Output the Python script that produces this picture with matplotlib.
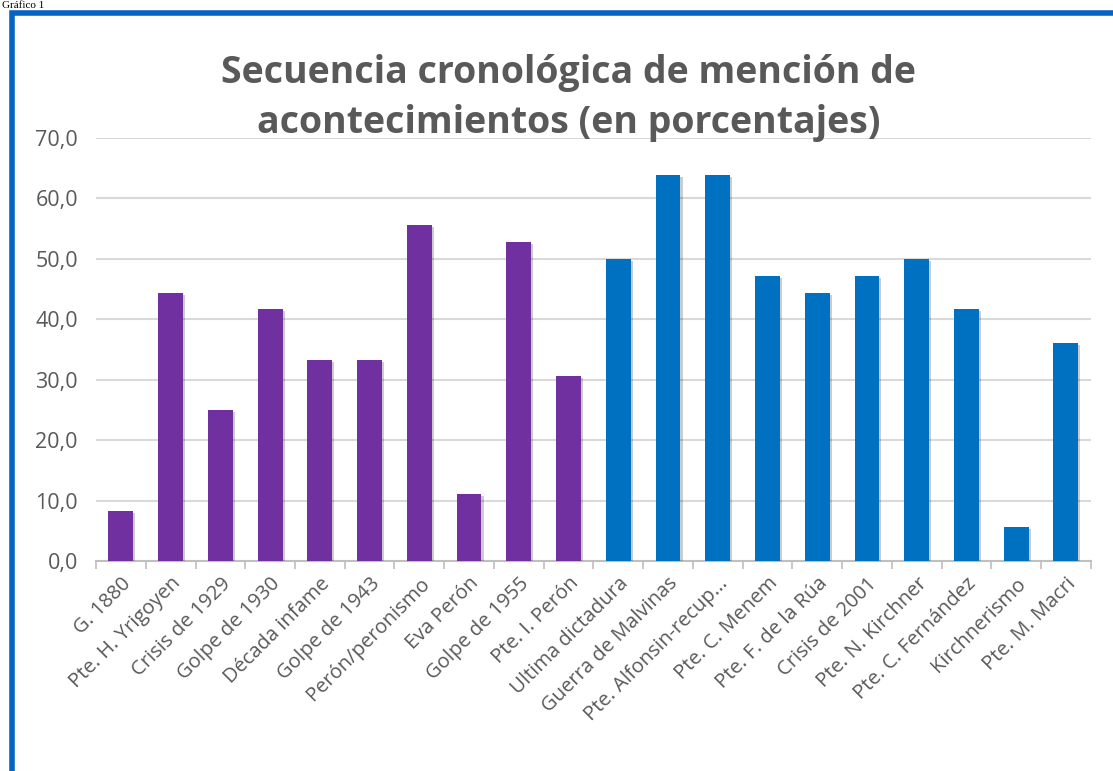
import matplotlib
matplotlib.use('Agg')
import matplotlib.pyplot as plt
import matplotlib.patheffects as pe
from matplotlib.patches import Rectangle
import numpy as np

# data
acontecimientos = ['G. 1880', 'Pte. H. Yrigoyen', 'Crisis de 1929', 'Golpe de 1930',
                   'Década infame', 'Golpe de 1943', 'Perón/peronismo', 'Eva Perón',
                   'Golpe de 1955', 'Pte. I. Perón', 'Ultima dictadura', 'Guerra de Malvinas',
                   'Pte. Alfonsin-recup...', 'Pte. C. Menem', 'Pte. F. de la Rúa',
                   'Crisis de 2001', 'Pte. N. Kirchner', 'Pte. C. Fernández',
                   'Kirchnerismo', 'Pte. M. Macri']
porcentajes = [8.3, 44.4, 25.0, 41.7, 33.3, 33.3, 55.6, 11.1, 52.8, 30.6,
               50.0, 63.9, 63.9, 47.2, 44.4, 47.2, 50.0, 41.7, 5.6, 36.1]
n_primera_etapa = 10
y_ticks = [0, 10, 20, 30, 40, 50, 60, 70]

violeta = '#7030A0'
azul = '#0070C0'
gris = '#595959'

plt.rcParams['font.family'] = ['Open Sans', 'DejaVu Sans']

fig = plt.figure(figsize=(11.13, 7.71), dpi=100)
ax = fig.add_axes([0.0863, 0.2724, 0.8937, 0.5486])

x = np.arange(len(acontecimientos))
colores = [violeta if i < n_primera_etapa else azul for i in range(len(acontecimientos))]
barras = ax.bar(x, porcentajes, width=0.5, color=colores, zorder=3)
for b in barras:
    b.set_path_effects([pe.SimplePatchShadow(offset=(1.5, -1.5), alpha=0.2, shadow_rgbFace='black'),
                        pe.Normal()])

ax.set_ylim(0, 70)
ax.set_xlim(-0.5, len(acontecimientos) - 0.5)
ax.set_yticks(y_ticks)
ax.set_yticklabels([f'{v:.1f}'.replace('.', ',') for v in y_ticks], fontsize=15.5, color=gris)
ax.yaxis.grid(True, color='#D9D9D9', linewidth=1.5, zorder=0)
ax.tick_params(axis='y', length=0, pad=13)

ax.set_xticks(x)
ax.set_xticklabels(acontecimientos, rotation=45, ha='right', rotation_mode='anchor',
                   fontsize=14.5, color=gris)
ax.tick_params(axis='x', length=0, pad=9)
ax.set_xticks(np.arange(-0.5, len(acontecimientos), 1.0), minor=True)
ax.tick_params(axis='x', which='minor', length=6, width=1.2, color='#BFBFBF', direction='out')

for lado in ['top', 'right', 'left']:
    ax.spines[lado].set_visible(False)
ax.spines['bottom'].set_color('#BFBFBF')
ax.spines['bottom'].set_linewidth(1.5)

fig.text(0.511, 0.873, 'Secuencia cronológica de mención de\nacontecimientos (en porcentajes)',
         ha='center', va='center', fontsize=27, fontweight='bold', color=gris, linespacing=1.42)

# marco azul del documento original
fig.patches.append(Rectangle((12 / 1113, -0.1), 1.2, 1 - 13 / 771 + 0.1, transform=fig.transFigure,
                             fill=False, edgecolor='#0563C1', linewidth=4, zorder=10))
fig.text(0.002, 0.999, 'Gráfico 1', ha='left', va='top', fontsize=8,
         family='Liberation Serif', color='black')

fig.savefig('out.png', dpi=100)
